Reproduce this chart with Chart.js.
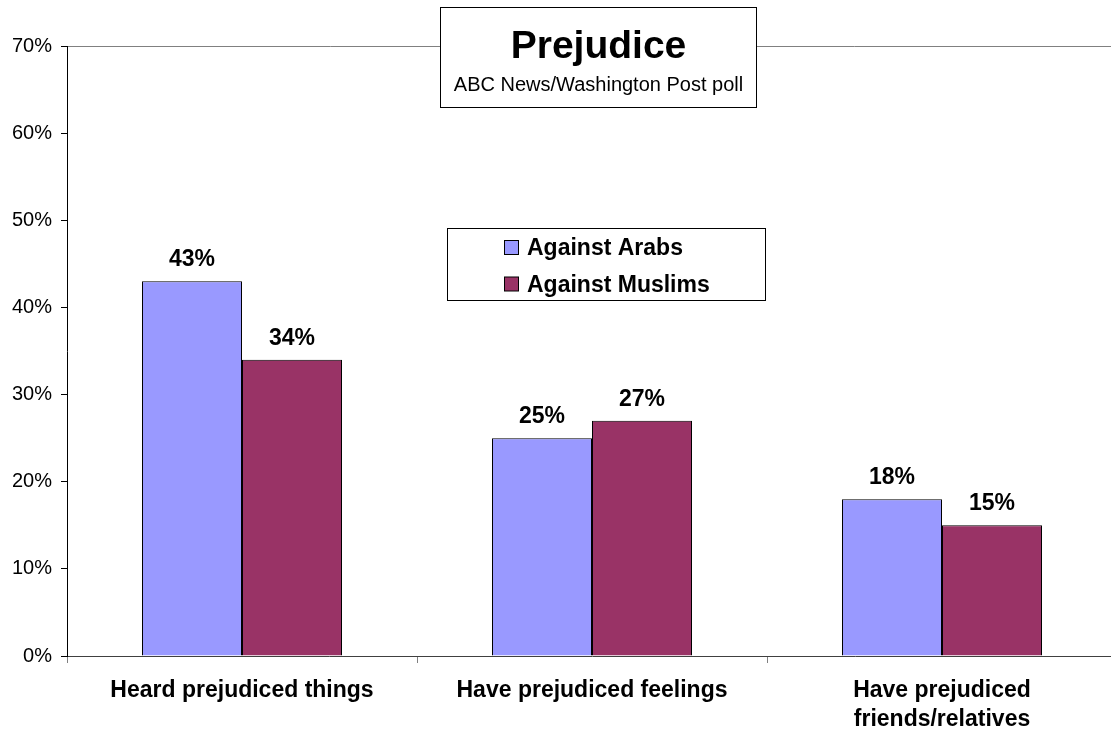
<!DOCTYPE html>
<html>
<head>
<meta charset="utf-8">
<title>Prejudice</title>
<script src="https://cdn.jsdelivr.net/npm/chart.js@4/dist/chart.umd.min.js"></script>
<style>
  html, body { margin: 0; padding: 0; background: #fff; overflow: hidden; }
  #wrap { position: absolute; left: 0; top: 0; width: 1117px; height: 731px; }
</style>
</head>
<body>
<div id="wrap"><canvas id="chart"></canvas></div>
<script>
// Poll results (percent)
const categories = ['Heard prejudiced things', 'Have prejudiced feelings', ['Have prejudiced', 'friends/relatives']];
const seriesNames = ['Against Arabs', 'Against Muslims'];
const againstArabs = [43, 25, 18];
const againstMuslims = [34, 27, 15];
const yTickValues = [0, 10, 20, 30, 40, 50, 60, 70];
const chartTitle = 'Prejudice';
const chartSubtitle = 'ABC News/Washington Post poll';

const COLORS = ['#9999FF', '#993366'];
const FONT = '"Liberation Sans", Arial, Helvetica, sans-serif';

Chart.defaults.font.family = FONT;
Chart.defaults.color = '#000';

// Percent labels above each bar
const valueLabels = {
  id: 'valueLabels',
  afterDatasetsDraw(chart) {
    const ctx = chart.ctx;
    ctx.save();
    ctx.font = 'bold 23px ' + FONT;
    ctx.fillStyle = '#000';
    ctx.textAlign = 'center';
    ctx.textBaseline = 'alphabetic';
    chart.data.datasets.forEach((ds, i) => {
      chart.getDatasetMeta(i).data.forEach((bar, j) => {
        ctx.fillText(ds.data[j] + '%', bar.x, bar.y - 15);
      });
    });
    ctx.restore();
  }
};

// Boxed title sitting on the top edge of the plot
const titleBox = {
  id: 'titleBox',
  afterDraw(chart) {
    const ctx = chart.ctx;
    const x = 440.5, y = 7.5, w = 316, h = 100;
    ctx.save();
    ctx.fillStyle = '#fff';
    ctx.fillRect(x, y, w, h);
    ctx.strokeStyle = '#000';
    ctx.lineWidth = 1;
    ctx.strokeRect(x, y, w, h);
    ctx.fillStyle = '#000';
    ctx.textAlign = 'center';
    ctx.textBaseline = 'alphabetic';
    ctx.font = 'bold 39px ' + FONT;
    ctx.fillText(chartTitle, x + w / 2, 58);
    ctx.font = '20px ' + FONT;
    ctx.fillText(chartSubtitle, x + w / 2, 91);
    ctx.restore();
  }
};

// Boxed legend inside the plot area
const boxLegend = {
  id: 'boxLegend',
  afterDraw(chart) {
    const ctx = chart.ctx;
    const x = 447.5, y = 228.5, w = 318, h = 72;
    ctx.save();
    ctx.fillStyle = '#fff';
    ctx.fillRect(x, y, w, h);
    ctx.strokeStyle = '#000';
    ctx.lineWidth = 1;
    ctx.strokeRect(x, y, w, h);
    ctx.font = 'bold 23px ' + FONT;
    ctx.textAlign = 'left';
    ctx.textBaseline = 'alphabetic';
    chart.data.datasets.forEach((ds, i) => {
      const base = 255 + i * 36.5;
      ctx.fillStyle = ds.backgroundColor;
      ctx.fillRect(504.5, base - 14.5, 14, 14);
      ctx.strokeStyle = '#000';
      ctx.strokeRect(504.5, base - 14.5, 14, 14);
      ctx.fillStyle = '#000';
      ctx.fillText(ds.label, 527, base);
    });
    ctx.restore();
  }
};

new Chart(document.getElementById('chart'), {
  type: 'bar',
  data: {
    labels: categories,
    datasets: [
      { label: seriesNames[0], data: againstArabs, backgroundColor: COLORS[0] },
      { label: seriesNames[1], data: againstMuslims, backgroundColor: COLORS[1] }
    ]
  },
  options: {
    responsive: true,
    maintainAspectRatio: false,
    animation: false,
    layout: { padding: { top: 46, left: 0, right: 0, bottom: 0 } },
    datasets: {
      bar: {
        categoryPercentage: 200 / 350,
        barPercentage: 1,
        borderColor: '#000',
        borderWidth: 1
      }
    },
    plugins: {
      legend: { display: false },
      title: { display: false },
      tooltip: { enabled: false }
    },
    scales: {
      x: {
        offset: true,
        grid: {
          offset: true,
          drawOnChartArea: false,
          drawTicks: true,
          tickLength: 7,
          tickColor: '#808080'
        },
        border: { display: true, color: '#404040', width: 1 },
        ticks: {
          font: { size: 23, weight: 'bold', lineHeight: 29 / 23 },
          color: '#000',
          padding: 13,
          maxRotation: 0,
          minRotation: 0,
          autoSkip: false
        },
        afterFit(scale) { scale.height = 75; }
      },
      y: {
        min: 0,
        max: 70,
        afterBuildTicks(scale) {
          scale.ticks = yTickValues.map(v => ({ value: v }));
        },
        grid: {
          color: (c) => (c.tick && c.tick.value === 70 ? '#808080' : 'rgba(0,0,0,0)'),
          lineWidth: 1,
          drawTicks: true,
          tickLength: 6,
          tickColor: '#000'
        },
        border: { display: true, color: '#000', width: 1 },
        ticks: {
          font: { size: 20 },
          color: '#000',
          padding: 9,
          callback: (v) => v + '%'
        },
        afterFit(scale) { scale.width = 67; }
      }
    }
  },
  plugins: [valueLabels, titleBox, boxLegend]
});
</script>
</body>
</html>
